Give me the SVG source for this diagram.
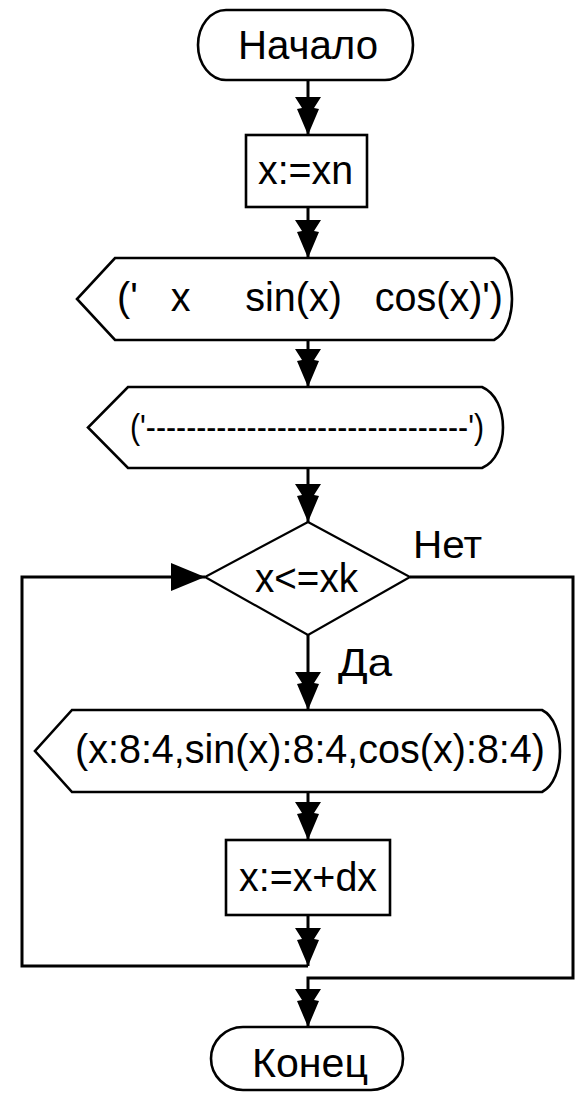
<svg xmlns="http://www.w3.org/2000/svg" width="576" height="1093" viewBox="0 0 576 1093">
<style>
.shape{fill:#fff;stroke:#000;stroke-width:2.6}
.dia{fill:#fff;stroke:#000;stroke-width:2.2}
.con{fill:none;stroke:#000;stroke-width:3}
.t{font-family:"Liberation Sans",Arial,sans-serif;font-size:40px;fill:#000}
.lbl{font-family:"Liberation Sans",Arial,sans-serif;font-size:39px;fill:#000}
.dashes{font-size:35px}
</style>
<defs>
<marker id="arr" viewBox="-39 -14 40 28" refX="0" refY="0" markerWidth="40" markerHeight="28" markerUnits="userSpaceOnUse" orient="auto">
<path d="M0,0 L-26,-11 L-27,-6 L-38,-13 L-38,13 L-27,6 L-26,11 Z" fill="#000"/>
</marker>
<marker id="tri" viewBox="-35 -15 36 30" refX="0" refY="0" markerWidth="36" markerHeight="30" markerUnits="userSpaceOnUse" orient="auto">
<path d="M0,0 L-34,-14 L-34,14 Z" fill="#000"/>
</marker>
</defs>
<rect x="0" y="0" width="576" height="1093" fill="#fff"/>
<g id="connectors">
<path class="con" d="M308,80 V135" marker-end="url(#arr)"/>
<path class="con" d="M308,207 V258" marker-end="url(#arr)"/>
<path class="con" d="M308,340 V387" marker-end="url(#arr)"/>
<path class="con" d="M308,468 V522" marker-end="url(#arr)"/>
<path class="con" d="M308,635 V710" marker-end="url(#arr)"/>
<path class="con" d="M308,792 V840" marker-end="url(#arr)"/>
<path class="con" d="M308,915 V966" marker-end="url(#arr)"/>
<path class="con" d="M308,966 H22 V577 H205" marker-end="url(#tri)"/>
<path class="con" d="M410,577 H573 V978 H308 V1027" marker-end="url(#arr)"/>
<text class="lbl" x="413" y="558" textLength="69" lengthAdjust="spacingAndGlyphs">Нет</text>
<text class="lbl" x="338" y="676" textLength="54" lengthAdjust="spacingAndGlyphs">Да</text>
</g>
<g id="start">
<rect class="shape" x="198" y="10" width="215" height="70" rx="28" ry="35"/>
<text class="t" x="238" y="59" textLength="140" lengthAdjust="spacingAndGlyphs">Начало</text>
</g>
<g id="init">
<rect class="shape" x="246" y="135" width="121" height="72"/>
<text class="t" x="258" y="184" textLength="95" lengthAdjust="spacingAndGlyphs">x:=xn</text>
</g>
<g id="out-header">
<path class="shape" d="M115,258 H494 C518,270 518,328 494,340 H115 L77,299 Z"/>
<text class="t" x="117" y="311" xml:space="preserve" textLength="386" lengthAdjust="spacingAndGlyphs">('   x     sin(x)   cos(x)')</text>
</g>
<g id="out-line">
<path class="shape" d="M128,387 H482 C510,399 510,456 482,468 H128 L88,427.5 Z"/>
<text class="t dashes" x="130" y="439" textLength="354" lengthAdjust="spacingAndGlyphs">('--------------------------------')</text>
</g>
<g id="cond">
<polygon class="dia" points="308,522 410,577 308,635 205,577"/>
<text class="t" x="255" y="592" textLength="103" lengthAdjust="spacingAndGlyphs">x&lt;=xk</text>
</g>
<g id="out-row">
<path class="shape" d="M72,710 H542 C566,722 566,780 542,792 H72 L35,751 Z"/>
<text class="t" x="75" y="763" textLength="470" lengthAdjust="spacingAndGlyphs">(x:8:4,sin(x):8:4,cos(x):8:4)</text>
</g>
<g id="step">
<rect class="shape" x="226" y="840" width="164" height="75"/>
<text class="t" x="239" y="891" textLength="138" lengthAdjust="spacingAndGlyphs">x:=x+dx</text>
</g>
<g id="end">
<rect class="shape" x="211" y="1027" width="192" height="63" rx="32" ry="31.5"/>
<text class="t" x="252" y="1077" textLength="116" lengthAdjust="spacingAndGlyphs">Конец</text>
</g>
</svg>
